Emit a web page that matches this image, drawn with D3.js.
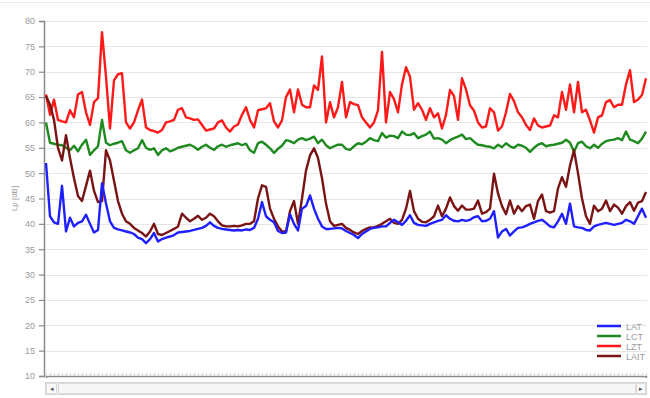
<!DOCTYPE html>
<html><head><meta charset="utf-8">
<script src="https://cdn.jsdelivr.net/npm/d3@7/dist/d3.min.js"></script>
<style>body{margin:0;background:#fff;}svg{display:block;font-family:"Liberation Sans",Arial,sans-serif;}</style>
</head><body><svg id="c" width="650" height="398"></svg>
<script>
const seriesNames = ["LAT","LCT","LZT","LAIT"];
const seriesColors = ["#1f1fff","#1f8a1f","#ff1a1a","#7a1414"];
const yTicks = [10,15,20,25,30,35,40,45,50,55,60,65,70,75,80];
const LZT = [65.5,61.5,64.5,60.5,60.2,60,62.4,61,65.5,66,62,59.5,64,64.8,77.8,69,58.8,68.3,69.5,69.7,
60,58.8,60,62.4,64.5,59,58.5,58.3,58,58.5,60,60.2,60.5,62.5,62.8,61,60.8,60.5,60.6,59.5,
58.4,58.6,58.8,60,60.4,59,58.2,59.2,59.6,61.5,63,60.5,59,62.4,62.6,62.8,63.8,60.2,59,60.4,
65,66.5,62,66.5,63.5,63,63,67.3,66.4,73,60,64,61,63,68,61,64,63.6,63.4,61,
60,59,60,62.4,73.9,60,66,64.6,62,67.5,70.9,69,62.5,63.8,62.5,60.5,62.8,61,61.8,58.8,
61.5,66.4,65.2,60.5,68.7,66.5,63.4,62.3,60,59,59.2,62.8,62,58.4,59.2,62,65.6,64.2,62,61,
59.5,58.5,60.8,59.4,59,59.2,59.4,61.4,61,66,62.5,67.5,62,68,62,62.5,60.4,58,61,61.4,
64,64.4,63,63.5,63.5,67.5,70.3,64,64.5,65.4,68.7];
const LCT = [60,56,55.8,55.6,55.5,55,54.5,55.4,54.3,55.6,56.6,53.6,54.5,55.3,60.5,56,55.5,55.8,56,56.3,
54.5,54,54.5,54.9,56.5,55,54.6,54.9,53.6,54.5,54.9,54.3,54.6,55,55.2,55.4,55.6,55.2,54.6,55.2,
55.6,55,54.6,55.3,55.6,55.2,55.5,55.7,55.9,55.5,55.8,54.5,54,55.9,56.2,55.6,54.9,54,54.8,55.4,
56.5,56.3,55.9,56.6,56.9,56.5,56.8,57.2,55.9,56.6,55.5,54.9,55.3,55.6,55.6,54.8,54.6,55.3,55.9,55.7,
56.2,56.9,56.5,56.3,57.9,57,57.4,57.3,56.9,58.2,57.6,57.5,57.9,56.9,57.3,57.6,58.2,56.8,56.9,56.6,
55.9,56.5,56.9,57.2,57.6,56.7,56.9,56.2,55.6,55.5,55.3,55.2,54.9,55.6,55.1,55.9,55.3,55,55.6,55.4,
55,54.2,55,55.6,55.9,55.3,55.5,55.6,55.8,56,56.6,56,54.2,55.9,56.2,55.3,54.9,55.6,55,55.8,
56.3,56.5,56.6,56.9,56.5,58.2,56.6,56.3,55.9,56.8,58.2];
const LAIT = [65.2,63.5,60.5,55,52.5,57.5,53,49,45.5,44.5,47.5,50.5,46.5,44.3,44.5,54.5,52.5,48.5,44.5,42,
40.5,40,39.2,38.7,38.2,37.5,38.5,40,38,37.8,38.2,38.6,39,39.5,42,41.2,40.5,41,41.6,40.8,
41.2,42,41.5,40.5,39.7,39.5,39.5,39.6,39.5,39.7,40,40,40.5,45,47.6,47.3,43,41,39.5,38.5,
38.5,42.5,44.5,40,45,50.5,53.5,54.9,53,49,44,40.5,39.6,39.8,40,39.2,38.8,38.3,38,38.6,
39,39.3,39.3,39.6,40,40.5,41,40.2,40,40.8,43,46.5,42.5,41,40.4,40.3,40.8,41.5,43.6,41.5,
43,45.2,43.5,42.6,43.6,42.8,42.8,43,44.6,42,42.3,43,49.9,46,43.5,41.9,44.6,42,43.5,42.5,
43.5,43.8,41,44.5,45.8,42.5,42.2,42.5,47,49.2,47.3,51.5,54.5,50,45,41.5,40,43.6,42.5,43,
44.6,42.5,43.8,43.2,42,43.5,44.3,42.6,44.2,44.5,46.3];
const LAT = [52,41.5,40.3,40,47.5,38.5,41.2,39.5,40.2,40.5,41.8,40,38.3,38.8,48,44,40.5,39.2,38.9,38.7,
38.5,38.3,38,37.3,37,36.2,37,38.2,36.5,37,37.3,37.5,37.8,38.3,38.4,38.5,38.6,38.8,39,39.2,
39.6,40.3,39.6,39.2,39,38.9,38.8,38.7,38.8,38.7,38.9,38.8,39.2,41,44.3,41.5,40.8,40.3,38.6,38.2,
38.3,41.9,40,38.7,43,43.5,45.6,43,41,39.5,39,39,39.1,39.2,39.1,38.6,38.2,37.8,37.2,38,
38.5,39,39.2,39.3,39.5,39.5,40.2,40.8,40.3,39.8,40.6,41.7,40.2,39.8,39.7,39.6,40,40.3,40.6,40.8,
41.7,41,40.6,40.5,40.8,40.6,40.8,41.3,41.5,40.5,40.6,41,42.5,37.3,38.5,39,37.7,38.5,39.2,39.3,
39.6,40,40.3,40.6,40.8,40.2,39.5,39.3,40.5,42,40,44,39.5,39.3,39.2,38.8,38.7,39.5,39.8,40,
40.2,40,39.8,40,40.2,40.8,40.5,40,41.5,43,41.2];

(function(){
const series = [LAT, LCT, LZT, LAIT];
const svg = d3.select("#c");
const mLeft = 44, mRight = 647, mTop = 21, mBottom = 376;
const x = d3.scaleLinear().domain([0, LZT.length - 1]).range([mLeft + 2, mRight - 1]);
const y = d3.scaleLinear().domain([10, 80]).range([mBottom, mTop]);

svg.append("line").attr("x1",0).attr("x2",650).attr("y1",2.5).attr("y2",2.5).attr("stroke","#ececec");

svg.append("g").selectAll("line").data(yTicks.slice(1)).join("line")
  .attr("x1", mLeft).attr("x2", mRight).attr("y1", d => Math.round(y(d)) + 0.5).attr("y2", d => Math.round(y(d)) + 0.5)
  .attr("stroke", "#e6e6e6").attr("stroke-width", 1);

const ya = svg.append("g").attr("transform", `translate(${mLeft},0)`)
  .call(d3.axisLeft(y).tickValues(yTicks).tickSize(5).tickPadding(4));
ya.select(".domain").attr("stroke", "#8a8a8a").attr("stroke-width", 1.5);
ya.selectAll(".tick line").attr("stroke", "#8a8a8a").attr("stroke-width", 1.2);
ya.selectAll("text").attr("fill", "#9a9a9a").attr("font-size", 9);

const xa = svg.append("g").attr("transform", `translate(0,${mBottom})`)
  .call(d3.axisBottom(x).ticks(150).tickSize(2).tickFormat(""));
xa.select(".domain").attr("stroke", "#8a8a8a").attr("stroke-width", 1.5);
xa.selectAll(".tick line").attr("stroke", "#d0d0d0").attr("transform","translate(0,-3)");

svg.append("text").attr("transform", `translate(17,${y(45)}) rotate(-90)`)
  .attr("text-anchor", "middle").attr("font-size", 8).attr("fill", "#9a9a9a").text("Lp [dB]");

const line = d3.line().x((d, i) => x(i)).y(d => y(d));
[1, 2, 3, 0].forEach(k => {
  svg.append("path").datum(series[k]).attr("d", line)
    .attr("fill", "none").attr("stroke", seriesColors[k]).attr("stroke-width", 2.4)
    .attr("stroke-linejoin", "round");
});

const lg = svg.append("g").attr("transform", "translate(597,326)");
seriesNames.forEach((n, i) => {
  const g = lg.append("g").attr("transform", `translate(0,${i * 10})`);
  g.append("line").attr("x1", 0).attr("x2", 24).attr("y1", 0).attr("y2", 0)
    .attr("stroke", seriesColors[i]).attr("stroke-width", 2.5);
  g.append("text").attr("x", 29).attr("y", 3.5).attr("font-size", 9).attr("fill", "#9a9a9a").text(n);
});

const sb = svg.append("g");
sb.append("rect").attr("x", 45.5).attr("y", 382.5).attr("width", 601).attr("height", 12)
  .attr("fill", "#f0f0f0").attr("stroke", "#d4d4d4");
sb.append("rect").attr("x", 46.5).attr("y", 383.5).attr("width", 10).attr("height", 10)
  .attr("fill", "#fafafa").attr("stroke", "#dcdcdc");
sb.append("rect").attr("x", 58.5).attr("y", 383.5).attr("width", 577).attr("height", 10)
  .attr("fill", "#f7f7f7").attr("stroke", "#dadada").attr("rx", 1);
sb.append("rect").attr("x", 636.5).attr("y", 383.5).attr("width", 9).attr("height", 10)
  .attr("fill", "#fafafa").attr("stroke", "#dcdcdc");
sb.append("text").attr("x", 51.5).attr("y", 391).attr("text-anchor","middle").attr("font-size", 7).attr("fill", "#555").text("◂");
sb.append("text").attr("x", 641).attr("y", 391).attr("text-anchor","middle").attr("font-size", 7).attr("fill", "#555").text("▸");
})();
</script></body></html>
